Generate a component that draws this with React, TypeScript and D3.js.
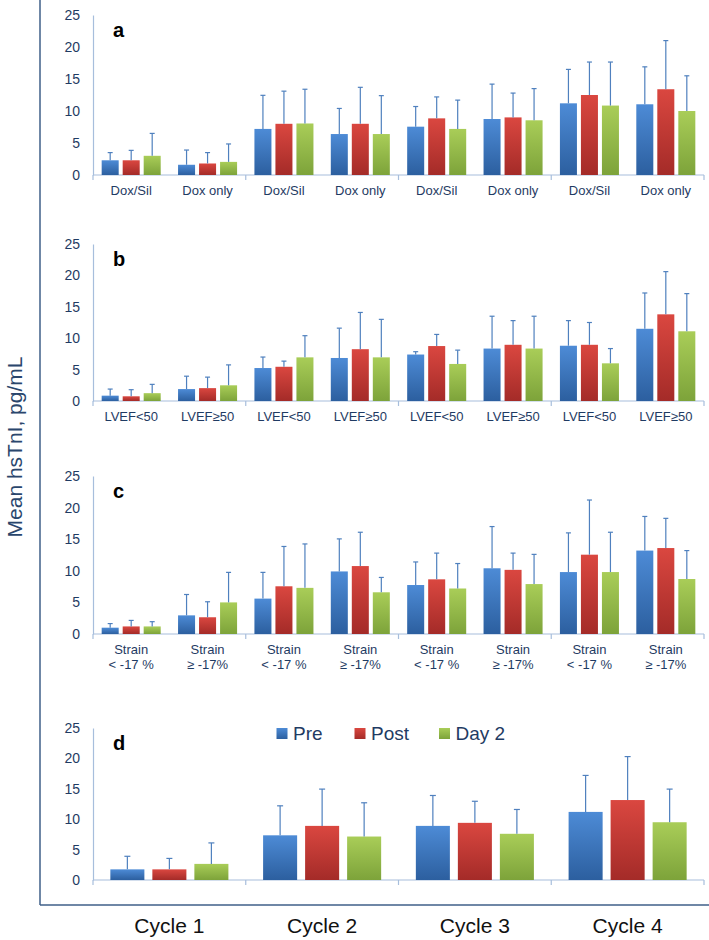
import React, { useEffect, useRef } from 'react';
import * as d3 from 'd3';

const series = ['Pre', 'Post', 'Day 2'];
const yTicks = [0, 5, 10, 15, 20, 25];

// panel a: by cycle and treatment arm
const labelsA = ['Dox/Sil', 'Dox only', 'Dox/Sil', 'Dox only', 'Dox/Sil', 'Dox only', 'Dox/Sil', 'Dox only'];
const preA = [2.3, 1.6, 7.2, 6.4, 7.55, 8.75, 11.2, 11.05];
const postA = [2.3, 1.8, 8.0, 8.0, 8.85, 9.0, 12.5, 13.4];
const day2A = [3.0, 2.05, 8.05, 6.4, 7.2, 8.55, 10.85, 10.0];
const preSdA = [1.2, 2.3, 5.25, 4.0, 3.15, 5.45, 5.3, 5.85];
const postSdA = [1.55, 1.7, 5.1, 5.7, 3.35, 3.8, 5.15, 7.6];
const day2SdA = [3.5, 2.8, 5.35, 6.0, 4.5, 4.95, 6.8, 5.5];

// panel b: by LVEF
const labelsB = ['LVEF<50', 'LVEF≥50', 'LVEF<50', 'LVEF≥50', 'LVEF<50', 'LVEF≥50', 'LVEF<50', 'LVEF≥50'];
const preB = [0.85, 1.9, 5.25, 6.85, 7.4, 8.35, 8.8, 11.5];
const postB = [0.75, 2.05, 5.45, 8.25, 8.75, 8.95, 8.95, 13.8];
const day2B = [1.25, 2.5, 6.95, 6.95, 5.9, 8.35, 6.0, 11.1];
const preSdB = [1.05, 2.05, 1.75, 4.75, 0.45, 5.15, 4.0, 5.7];
const postSdB = [1.05, 1.75, 0.9, 5.85, 1.85, 3.85, 3.55, 6.8];
const day2SdB = [1.4, 3.25, 3.45, 6.05, 2.2, 5.15, 2.35, 6.0];

// panel c: by strain
const labelsC = [
  'Strain\n< -17 %', 'Strain\n≥ -17%', 'Strain\n< -17 %', 'Strain\n≥ -17%',
  'Strain\n< -17 %', 'Strain\n≥ -17%', 'Strain\n< -17 %', 'Strain\n≥ -17%',
];
const preC = [1.0, 2.95, 5.6, 9.9, 7.75, 10.4, 9.8, 13.2];
const postC = [1.2, 2.65, 7.55, 10.75, 8.65, 10.15, 12.55, 13.6];
const day2C = [1.2, 5.0, 7.3, 6.6, 7.2, 7.9, 9.8, 8.7];
const preSdC = [0.65, 3.3, 4.15, 5.15, 3.65, 6.6, 6.2, 5.4];
const postSdC = [0.95, 2.45, 6.3, 5.35, 4.15, 2.65, 8.65, 4.7];
const day2SdC = [0.75, 4.75, 6.95, 2.35, 3.95, 4.7, 6.3, 4.5];

// panel d: all patients by cycle
const labelsD = ['Cycle 1', 'Cycle 2', 'Cycle 3', 'Cycle 4'];
const preD = [1.75, 7.35, 8.9, 11.2];
const postD = [1.75, 8.9, 9.4, 13.15];
const day2D = [2.65, 7.15, 7.6, 9.5];
const preSdD = [2.15, 4.85, 5.0, 6.0];
const postSdD = [1.8, 6.05, 3.55, 7.15];
const day2SdD = [3.45, 5.55, 4.0, 5.45];

const gradients = [
  ['#4d8bd6', '#2c5f9f'],
  ['#da4740', '#a42b28'],
  ['#a9cd58', '#7da33a'],
];

const font = "'Liberation Sans', Arial, sans-serif";
const narrow = "'Liberation Sans Narrow', 'Arial Narrow', 'Liberation Sans', Arial, sans-serif";
const textColor = '#1f3b63';

const panels = [
  { letter: 'a', labels: labelsA, means: [preA, postA, day2A], sds: [preSdA, postSdA, day2SdA], y0: 175, yTop: 15, every: 2 },
  { letter: 'b', labels: labelsB, means: [preB, postB, day2B], sds: [preSdB, postSdB, day2SdB], y0: 401, yTop: 244, every: 2 },
  { letter: 'c', labels: labelsC, means: [preC, postC, day2C], sds: [preSdC, postSdC, day2SdC], y0: 634, yTop: 476, every: 2 },
  { letter: 'd', labels: labelsD, means: [preD, postD, day2D], sds: [preSdD, postSdD, day2SdD], y0: 880, yTop: 728, every: 1 },
];

export default function App() {
  const ref = useRef<SVGSVGElement>(null);

  useEffect(() => {
    if (!ref.current) return;
    const svg = d3.select(ref.current);
    svg.selectAll('*').remove();

    const defs = svg.append('defs');
    gradients.forEach(([top, bottom], i) => {
      const g = defs
        .append('linearGradient')
        .attr('id', `bar-grad-${i}`)
        .attr('x1', 0)
        .attr('x2', 0)
        .attr('y1', 0)
        .attr('y2', 1);
      g.append('stop').attr('offset', '0%').attr('stop-color', top);
      g.append('stop').attr('offset', '100%').attr('stop-color', bottom);
    });

    // outer frame
    svg.append('line').attr('x1', 40).attr('x2', 40).attr('y1', 0).attr('y2', 905)
      .attr('stroke', '#3f5f88').attr('stroke-width', 1.5);
    svg.append('line').attr('x1', 40).attr('x2', 709).attr('y1', 905).attr('y2', 905)
      .attr('stroke', '#3f5f88').attr('stroke-width', 1.5);

    svg
      .append('text')
      .attr('transform', 'translate(22, 447) rotate(-90)')
      .attr('text-anchor', 'middle')
      .style('font-family', font)
      .style('font-size', '21px')
      .style('fill', '#2a466c')
      .text('Mean hsTnI, pg/mL');

    const left = 93;
    const right = 704;

    panels.forEach((p) => {
      const n = p.labels.length;
      const x = d3.scaleBand<number>().domain(d3.range(n)).range([left, right]);
      const inner = d3
        .scaleBand<number>()
        .domain(d3.range(series.length))
        .range([0, x.bandwidth()])
        .paddingInner(0.19)
        .paddingOuter(0.413);
      const y = d3.scaleLinear().domain([0, 25]).range([p.y0, p.yTop]);

      const g = svg.append('g');

      // y axis
      g.append('g')
        .attr('transform', `translate(${left},0)`)
        .call(d3.axisLeft(y).tickValues(yTicks).tickSize(0).tickSizeOuter(0).tickPadding(13))
        .call((a) => a.select('.domain').attr('stroke', '#a7bedc').attr('stroke-width', 1.2))
        .call((a) =>
          a.selectAll('.tick text')
            .style('font-family', font)
            .style('font-size', '14px')
            .style('fill', textColor)
        );

      // x axis line with group separators
      g.append('line')
        .attr('x1', left).attr('x2', right)
        .attr('y1', p.y0).attr('y2', p.y0)
        .attr('stroke', '#a7bedc').attr('stroke-width', 1.2);
      const seps = d3.range(0, n + 1, p.every);
      g.selectAll('.sep')
        .data(seps)
        .enter()
        .append('line')
        .attr('x1', (i) => (i < n ? x(i)! : right))
        .attr('x2', (i) => (i < n ? x(i)! : right))
        .attr('y1', p.y0)
        .attr('y2', p.y0 + 5)
        .attr('stroke', '#a7bedc')
        .attr('stroke-width', 1.2);

      // bars
      series.forEach((_, s) => {
        g.selectAll(`.bar-${s}`)
          .data(p.means[s])
          .enter()
          .append('rect')
          .attr('x', (_d, i) => x(i)! + inner(s)!)
          .attr('y', (d) => y(d))
          .attr('width', inner.bandwidth())
          .attr('height', (d) => p.y0 - y(d))
          .attr('fill', `url(#bar-grad-${s})`);

        const cap = p.every === 1 ? 3 : 2.5;
        const errs = p.means[s].map((m, i) => ({ m, sd: p.sds[s][i], i }));
        const eg = g.selectAll(`.err-${s}`).data(errs).enter().append('g');
        eg.append('line')
          .attr('x1', (d) => x(d.i)! + inner(s)! + inner.bandwidth() / 2)
          .attr('x2', (d) => x(d.i)! + inner(s)! + inner.bandwidth() / 2)
          .attr('y1', (d) => y(d.m))
          .attr('y2', (d) => y(d.m + d.sd))
          .attr('stroke', '#4f80be')
          .attr('stroke-width', 1.2);
        eg.append('line')
          .attr('x1', (d) => x(d.i)! + inner(s)! + inner.bandwidth() / 2 - cap)
          .attr('x2', (d) => x(d.i)! + inner(s)! + inner.bandwidth() / 2 + cap)
          .attr('y1', (d) => y(d.m + d.sd))
          .attr('y2', (d) => y(d.m + d.sd))
          .attr('stroke', '#4f80be')
          .attr('stroke-width', 1.2);
      });

      // category labels
      const big = p.every === 1;
      g.selectAll('.cat')
        .data(p.labels)
        .enter()
        .append('text')
        .attr('x', (_d, i) => x(i)! + x.bandwidth() / 2)
        .attr('y', p.y0 + (big ? 53 : 20))
        .attr('text-anchor', 'middle')
        .style('font-family', font)
        .style('font-size', big ? '21px' : '13px')
        .style('fill', big ? '#111' : textColor)
        .each(function (d) {
          const lines = d.split('\n');
          const t = d3.select(this);
          lines.forEach((line, k) => {
            t.append('tspan')
              .attr('x', t.attr('x'))
              .attr('dy', k === 0 ? 0 : 15)
              .text(line);
          });
        });

      // panel letter
      g.append('text')
        .attr('x', 113)
        .attr('y', p.yTop + 22)
        .style('font-family', font)
        .style('font-weight', 'bold')
        .style('font-size', '20px')
        .style('fill', '#000')
        .text(p.letter);
    });

    // legend (panel d)
    const legendX = [276.5, 354.5, 439];
    const lg = svg.append('g');
    series.forEach((name, s) => {
      lg.append('rect')
        .attr('x', legendX[s])
        .attr('y', 728)
        .attr('width', 11)
        .attr('height', 11)
        .attr('fill', `url(#bar-grad-${s})`);
      lg.append('text')
        .attr('x', legendX[s] + 16.5)
        .attr('y', 740)
        .style('font-family', narrow)
        .style('font-size', '19px')
        .style('fill', textColor)
        .text(name);
    });
  }, []);

  return (
    <svg
      ref={ref}
      width={709}
      height={940}
      style={{ position: 'absolute', left: 0, top: 0, background: '#fff' }}
    />
  );
}
